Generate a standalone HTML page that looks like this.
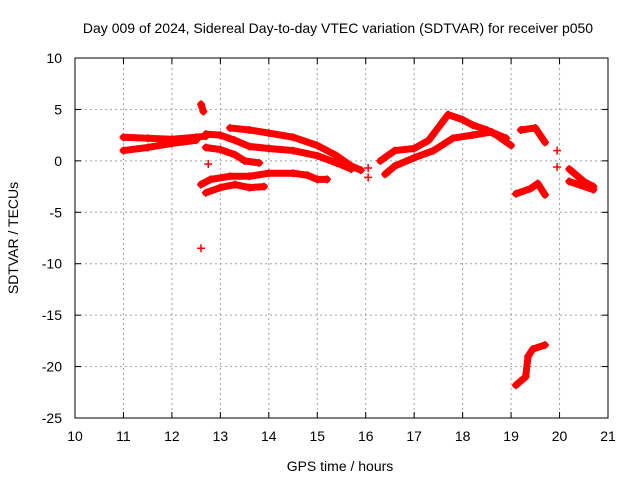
<!DOCTYPE html>
<html><head><meta charset="utf-8"><style>
body{margin:0;background:#fff}
svg{display:block;font-family:"Liberation Sans",sans-serif}
</style></head><body>
<svg id="c" width="640" height="480" xmlns="http://www.w3.org/2000/svg">
<rect width="640" height="480" fill="#fff"/>
<text x="338" y="33" font-size="14" text-anchor="middle">Day 009 of 2024, Sidereal Day-to-day VTEC variation (SDTVAR) for receiver p050</text>
<text x="340" y="471" font-size="14" text-anchor="middle">GPS time / hours</text>
<text x="18" y="238" font-size="14" text-anchor="middle" transform="rotate(-90 18 238)">SDTVAR / TECUs</text>
<g id="grid"></g><g id="ticks"></g><g id="marks"></g>
<rect x="75" y="58" width="533" height="360" fill="none" stroke="#000" stroke-width="1"/>
</svg>
<script>
const xTicks=[10,11,12,13,14,15,16,17,18,19,20,21];
const yTicks=[10,5,0,-5,-10,-15,-20,-25];
const tracksA=[[11.0,2.3],[11.5,2.2],[12.0,2.1],[12.5,2.3],[12.7,2.4]];
const tracksA2=[[11.0,1.0],[11.5,1.3],[12.0,1.7],[12.5,2.0]];
const trackB=[[12.6,5.5],[12.65,4.8]];
const trackC=[[12.7,2.6],[13.0,2.5],[13.3,2.0],[13.6,1.4],[14.0,1.2],[14.5,1.0],[15.0,0.5],[15.4,-0.2],[15.7,-0.8]];
const trackD=[[13.2,3.2],[13.6,3.0],[14.0,2.7],[14.5,2.3],[15.0,1.5],[15.4,0.5],[15.7,-0.5],[15.9,-0.9]];
const trackE=[[12.7,1.3],[13.0,1.1],[13.3,0.6],[13.5,0.0],[13.8,-0.2]];
const trackF=[[12.6,-2.3],[12.8,-1.8],[13.2,-1.5],[13.6,-1.5],[14.0,-1.2],[14.5,-1.2],[14.8,-1.4],[15.0,-1.8],[15.2,-1.8]];
const trackG=[[12.7,-3.1],[13.0,-2.6],[13.3,-2.3],[13.6,-2.6],[13.9,-2.5]];
const trackH=[[16.3,0.0],[16.6,1.0],[17.0,1.2],[17.3,2.0],[17.7,4.5],[18.0,4.0],[18.2,3.5],[18.5,3.0],[18.7,2.5],[19.0,1.5]];
const trackI=[[16.4,-1.3],[16.6,-0.5],[17.0,0.3],[17.4,1.0],[17.8,2.2],[18.2,2.5],[18.6,2.8],[18.9,2.2]];
const trackK=[[19.2,3.0],[19.5,3.2],[19.7,1.8]];
const trackL=[[19.1,-3.2],[19.4,-2.7],[19.55,-2.2],[19.7,-3.3]];
const trackM=[[20.2,-0.8],[20.5,-2.0],[20.7,-2.5]];
const trackM2=[[20.2,-2.0],[20.7,-2.8]];
const trackN=[[19.1,-21.8],[19.3,-21.0],[19.35,-19.0],[19.45,-18.3],[19.7,-17.9]];
const singles=[[12.6,-8.5],[12.75,-0.3],[16.05,-0.7],[16.05,-1.6],[19.95,1.0],[19.95,-0.6]];
const tracks=[tracksA,tracksA2,trackB,trackC,trackD,trackE,trackF,trackG,trackH,trackI,trackK,trackL,trackM,trackM2,trackN];
const NS="http://www.w3.org/2000/svg";
const X=t=>75+(t-10)*533/11, Y=v=>58+(10-v)*360/35;
function mk(tag,attrs,parent){const e=document.createElementNS(NS,tag);for(const k in attrs)e.setAttribute(k,attrs[k]);parent.appendChild(e);return e;}
const grid=document.getElementById('grid'),ticks=document.getElementById('ticks'),marks=document.getElementById('marks');
xTicks.forEach(t=>{const x=X(t);
 if(t>10&&t<21){const g=mk('line',{x1:x,x2:x,y1:58,y2:418,stroke:'#a0a0a0','stroke-dasharray':'2,3'},grid);}
 mk('line',{x1:x,x2:x,y1:418,y2:412,stroke:'#000'},ticks);mk('line',{x1:x,x2:x,y1:58,y2:64,stroke:'#000'},ticks);
 const l=mk('text',{x:x,y:441,'font-size':14,'text-anchor':'middle'},ticks);l.textContent=t;
 });
yTicks.forEach(v=>{const y=Y(v);
 if(v<10&&v>-25){const g=mk('line',{x1:75,x2:608,y1:y,y2:y,stroke:'#a0a0a0','stroke-dasharray':'2,3'},grid);}
 mk('line',{x1:75,x2:81,y1:y,y2:y,stroke:'#000'},ticks);mk('line',{x1:608,x2:602,y1:y,y2:y,stroke:'#000'},ticks);
 const l=mk('text',{x:62,y:y+5,'font-size':14,'text-anchor':'end'},ticks);l.textContent=v;
 });
function plus(t,v){const x=X(t),y=Y(v);mk('path',{d:`M${x-4} ${y}H${x+4}M${x} ${y-4}V${y+4}`,stroke:'#f00','stroke-width':1.5},marks);}
tracks.forEach(tr=>{
 const p=mk('polyline',{points:tr.map(d=>X(d[0])+','+Y(d[1])).join(' '),fill:'none',stroke:'#f00','stroke-width':7,'stroke-linejoin':'round','stroke-linecap':'round'},marks);
 
 tr.forEach(d=>plus(d[0],d[1]));});
singles.forEach(d=>plus(d[0],d[1]));
</script>
</body></html>
